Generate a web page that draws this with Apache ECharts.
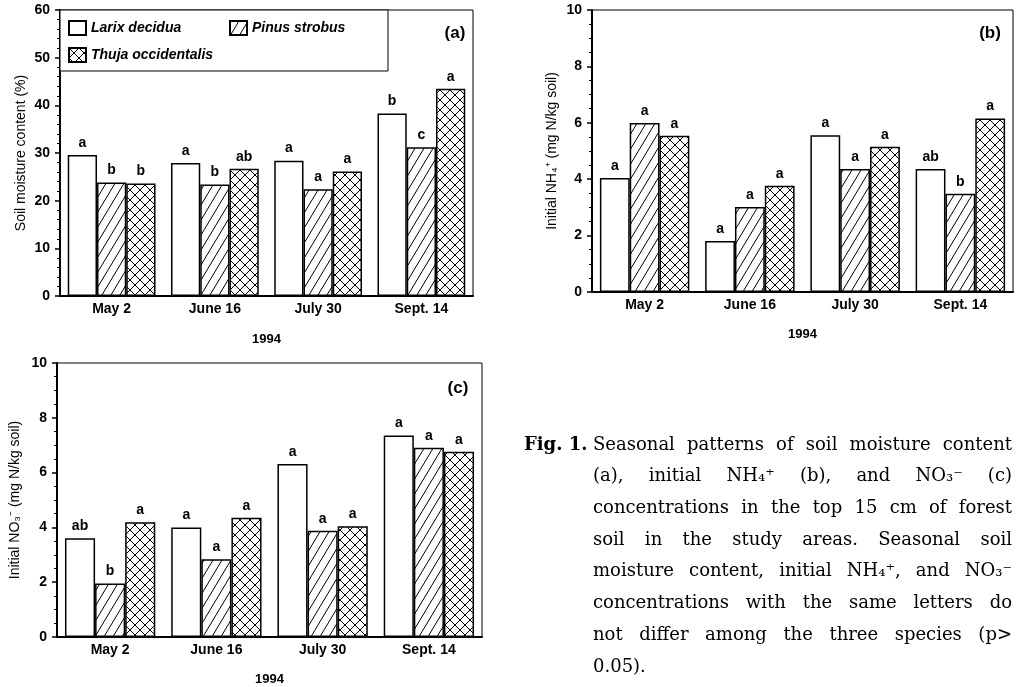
<!DOCTYPE html>
<html>
<head>
<meta charset="utf-8">
<script src="https://cdn.jsdelivr.net/npm/echarts@6/dist/echarts.min.js"></script>
<style>html,body{margin:0;padding:0;background:#fff;}#c{width:1018px;height:687px;}</style>
</head>
<body>
<div id="c"></div>
<script>
// ---- data ----
const categories = ['May 2', 'June 16', 'July 30', 'Sept. 14'];
const species = ['Larix decidua', 'Pinus strobus', 'Thuja occidentalis'];

// (a) soil moisture content (%)
const moistLarix = [29.6, 27.9, 28.4, 38.3];
const moistPinus = [23.8, 23.4, 22.4, 31.2];
const moistThuja = [23.6, 26.7, 26.1, 43.5];
const moistLarixLetters = ['a', 'a', 'a', 'b'];
const moistPinusLetters = ['b', 'b', 'a', 'c'];
const moistThujaLetters = ['b', 'ab', 'a', 'a'];

// (b) initial NH4+ (mg N/kg soil)
const nh4Larix = [4.04, 1.81, 5.56, 4.36];
const nh4Pinus = [5.99, 3.01, 4.36, 3.48];
const nh4Thuja = [5.54, 3.77, 5.15, 6.15];
const nh4LarixLetters = ['a', 'a', 'a', 'ab'];
const nh4PinusLetters = ['a', 'a', 'a', 'b'];
const nh4ThujaLetters = ['a', 'a', 'a', 'a'];

// (c) initial NO3- (mg N/kg soil)
const no3Larix = [3.60, 4.00, 6.31, 7.35];
const no3Pinus = [1.95, 2.84, 3.88, 6.91];
const no3Thuja = [4.19, 4.35, 4.04, 6.76];
const no3LarixLetters = ['ab', 'a', 'a', 'a'];
const no3PinusLetters = ['b', 'a', 'a', 'a'];
const no3ThujaLetters = ['a', 'a', 'a', 'a'];

const yTicksA = [0, 10, 20, 30, 40, 50, 60];
const yTicksBC = [0, 2, 4, 6, 8, 10];

const captionHead = 'Fig. 1.';
const captionLines = [
  'Seasonal patterns of soil moisture content',
  '(a), initial NH\u2084\u207A (b), and NO\u2083\u207B (c)',
  'concentrations in the top 15 cm of forest',
  'soil in the study areas. Seasonal soil',
  'moisture content, initial NH\u2084\u207A, and NO\u2083\u207B',
  'concentrations with the same letters do',
  'not differ among the three species (p>',
  '0.05).'
];

// ---- fill patterns ----
function makePattern(kind) {
  const c = document.createElement('canvas');
  const w = kind === 'slash' ? 9 : 10;
  const h = kind === 'slash' ? 15 : 10;
  c.width = w; c.height = h;
  const ctx = c.getContext('2d');
  ctx.fillStyle = '#fff';
  ctx.fillRect(0, 0, w, h);
  ctx.strokeStyle = '#000';
  ctx.lineWidth = 1;
  ctx.beginPath();
  for (let k = -1; k <= 1; k++) {
    ctx.moveTo(k * w, h); ctx.lineTo(k * w + w, 0);
    if (kind === 'cross') { ctx.moveTo(k * w, 0); ctx.lineTo(k * w + w, h); }
  }
  ctx.stroke();
  return { image: c, repeat: 'repeat' };
}
const fills = ['#ffffff', makePattern('slash'), makePattern('cross')];

const chart = echarts.init(document.getElementById('c'), null, { renderer: 'canvas' });

const grids = [
  { left: 60, top: 10, width: 413, height: 286 },
  { left: 592, top: 10, width: 421, height: 282 },
  { left: 57, top: 363, width: 425, height: 281 }
];
const yNames = ['Soil moisture content (%)', 'Initial NH\u2084\u207A (mg N/kg soil)', 'Initial NO\u2083\u207B (mg N/kg soil)'];
const yNameGaps = [32, 33, 35];
const xNameGaps = [37, 36, 36];
const yTickSets = [yTicksA, yTicksBC, yTicksBC];
const minorSplits = [5, 4, 4];

const panelData = [
  [[moistLarix, moistLarixLetters], [moistPinus, moistPinusLetters], [moistThuja, moistThujaLetters]],
  [[nh4Larix, nh4LarixLetters], [nh4Pinus, nh4PinusLetters], [nh4Thuja, nh4ThujaLetters]],
  [[no3Larix, no3LarixLetters], [no3Pinus, no3PinusLetters], [no3Thuja, no3ThujaLetters]]
];

const xAxes = grids.map((g, i) => ({
  gridIndex: i, type: 'category', data: categories,
  axisLine: { lineStyle: { color: '#000', width: 2 } },
  axisTick: { show: false },
  axisLabel: { color: '#000', fontWeight: 'bold', fontSize: 14, fontFamily: 'Liberation Sans, Arial', margin: 6 },
  name: '1994', nameLocation: 'middle', nameGap: xNameGaps[i],
  nameTextStyle: { color: '#000', fontWeight: 'bold', fontSize: 13, fontFamily: 'Liberation Sans, Arial' }
}));

const yAxes = grids.map((g, i) => {
  const t = yTickSets[i];
  return {
    gridIndex: i, type: 'value', min: t[0], max: t[t.length - 1], interval: t[1] - t[0],
    axisLine: { show: true, lineStyle: { color: '#000', width: 2 } },
    axisTick: { show: true, length: 5, lineStyle: { color: '#000', width: 1.5 } },
    minorTick: { show: true, splitNumber: minorSplits[i], length: 3, lineStyle: { color: '#000', width: 1 } },
    splitLine: { show: false },
    axisLabel: { color: '#000', fontWeight: 'bold', fontSize: 14, fontFamily: 'Liberation Sans, Arial', margin: 10 },
    name: yNames[i], nameLocation: 'middle', nameRotate: 90, nameGap: yNameGaps[i],
    nameTextStyle: { color: '#000', fontSize: 14, fontFamily: 'Liberation Sans, Arial' }
  };
});

const series = [];
panelData.forEach((panel, gi) => {
  panel.forEach(([vals, letters], si) => {
    series.push({
      type: 'bar', name: species[si], xAxisIndex: gi, yAxisIndex: gi,
      data: vals, barGap: '0%', barCategoryGap: '15%',
      itemStyle: { color: fills[si], borderColor: '#000', borderWidth: 1.5 },
      emphasis: { disabled: true },
      label: {
        show: true, position: 'top', distance: 5,
        formatter: p => letters[p.dataIndex],
        color: '#000', fontWeight: 'bold', fontSize: 14, fontFamily: 'Liberation Sans, Arial'
      }
    });
  });
});

const legendBase = {
  itemWidth: 17, itemHeight: 14, padding: 0, icon: 'rect', selectedMode: false, z: 10,
  textStyle: { color: '#000', fontStyle: 'italic', fontWeight: 'bold', fontSize: 14, fontFamily: 'Liberation Sans, Arial' }
};
const legends = [
  Object.assign({}, legendBase, { data: [species[0]], left: 68, top: 20 }),
  Object.assign({}, legendBase, { data: [species[1]], left: 229, top: 20 }),
  Object.assign({}, legendBase, { data: [species[2]], left: 68, top: 47 })
];

// ---- caption (justified) ----
const capFont = '18px "DejaVu Serif"';
const capBold = 'bold 18px "DejaVu Serif"';
const mctx = document.createElement('canvas').getContext('2d');
mctx.font = capFont;
const capX0 = 593, capX1 = 1012, capY0 = 445, capDY = 31.7;
const panelFont = 'bold 17px "Liberation Sans", Arial';
const graphics = [
  { type: 'rect', shape: { x: 60, y: 10, width: 328, height: 61 }, style: { fill: '#fff', stroke: '#000', lineWidth: 1 }, z: 5 },
  { type: 'text', style: { text: '(a)', x: 455, y: 33, font: panelFont, fill: '#000', textAlign: 'center', textVerticalAlign: 'middle' }, z: 6 },
  { type: 'text', style: { text: '(b)', x: 990, y: 33, font: panelFont, fill: '#000', textAlign: 'center', textVerticalAlign: 'middle' }, z: 6 },
  { type: 'text', style: { text: '(c)', x: 458, y: 388, font: panelFont, fill: '#000', textAlign: 'center', textVerticalAlign: 'middle' }, z: 6 },
  { type: 'text', style: { text: captionHead, x: 524, y: capY0, font: capBold, fill: '#000', textAlign: 'left', textVerticalAlign: 'middle' } }
];
captionLines.forEach((line, li) => {
  const y = capY0 + li * capDY;
  const words = line.split(' ');
  if (li === captionLines.length - 1 || words.length < 2) {
    graphics.push({ type: 'text', style: { text: line, x: capX0, y, font: capFont, fill: '#000', textAlign: 'left', textVerticalAlign: 'middle' } });
    return;
  }
  const widths = words.map(w => mctx.measureText(w).width);
  const total = widths.reduce((a, b) => a + b, 0);
  const gap = (capX1 - capX0 - total) / (words.length - 1);
  let x = capX0;
  words.forEach((w, wi) => {
    graphics.push({ type: 'text', style: { text: w, x, y, font: capFont, fill: '#000', textAlign: 'left', textVerticalAlign: 'middle' } });
    x += widths[wi] + gap;
  });
});

chart.setOption({
  animation: false,
  backgroundColor: '#fff',
  grid: grids.map(g => Object.assign({ show: true, borderColor: '#000', borderWidth: 1, backgroundColor: 'transparent', containLabel: false }, g)),
  xAxis: xAxes,
  yAxis: yAxes,
  legend: legends,
  series: series,
  graphic: graphics
});
</script>
</body>
</html>
